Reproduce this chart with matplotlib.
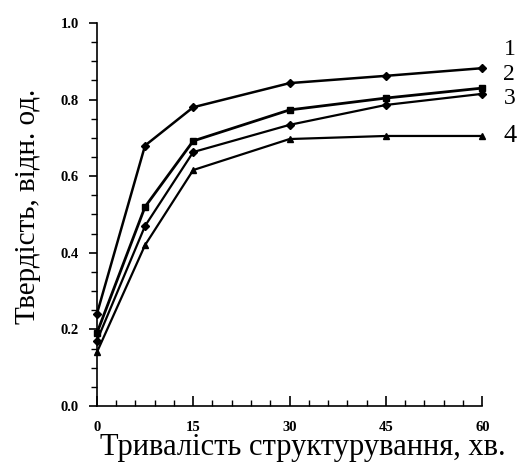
#!/usr/bin/env python3
"""Hardness vs. structuring time, four curves."""

import matplotlib
matplotlib.use("Agg")
import matplotlib.pyplot as plt
from matplotlib.ticker import MultipleLocator

time_min = [0, 7.5, 15, 30, 45, 60]
curve_1 = [0.24, 0.68, 0.78, 0.843, 0.862, 0.882]
curve_2 = [0.19, 0.52, 0.692, 0.773, 0.804, 0.83]
curve_3 = [0.17, 0.47, 0.663, 0.734, 0.786, 0.815]
curve_4 = [0.14, 0.42, 0.616, 0.697, 0.705, 0.705]
curve_labels = ["1", "2", "3", "4"]
label_y = [0.93, 0.866, 0.802, 0.705]

SERIF = ["Liberation Serif", "DejaVu Serif"]

fig = plt.figure(figsize=(5.18, 4.74), dpi=100)
ax = fig.add_axes([0.187, 0.1435, 0.744, 0.808])

styles = [
    dict(marker="D", markersize=4, lw=1.8),
    dict(marker="s", markersize=5, lw=2.0),
    dict(marker="D", markersize=4, lw=1.6),
    dict(marker="^", markersize=5, lw=1.6),
]
for ys, st in zip([curve_1, curve_2, curve_3, curve_4], styles):
    ax.plot(time_min, ys, color="black", clip_on=False, **st)

for lab, y in zip(curve_labels, label_y):
    ax.text(63.3, y, lab, fontsize=17 if lab != "4" else 19, family=SERIF,
            va="center", ha="left", clip_on=False)

ax.set_xlim(0, 60)
ax.set_ylim(0, 1.0)
ax.spines["top"].set_visible(False)
ax.spines["right"].set_visible(False)
ax.spines["left"].set_linewidth(1.2)
ax.spines["bottom"].set_linewidth(1.2)

ax.xaxis.set_major_locator(MultipleLocator(15))
ax.xaxis.set_minor_locator(MultipleLocator(3))
ax.yaxis.set_major_locator(MultipleLocator(0.2))
ax.yaxis.set_minor_locator(MultipleLocator(0.05))
ax.tick_params(axis="x", which="major", direction="in", length=7, width=1.2, pad=11)
ax.tick_params(axis="x", which="minor", direction="in", length=4, width=1.0)
ax.tick_params(axis="y", which="major", direction="out", length=6, width=1.2, pad=7)
ax.tick_params(axis="y", which="minor", direction="out", length=4, width=1.0)
ax.set_yticklabels([f"{v:.1f}" for v in ax.get_yticks()])

for lbl in ax.get_xticklabels() + ax.get_yticklabels():
    lbl.set_family(SERIF)
    lbl.set_fontweight("bold")
    lbl.set_fontsize(10.5)

ax.set_xlabel("Тривалість структурування, хв.", family=SERIF, fontsize=22)
ax.set_ylabel("Твердість, відн. од.", family=SERIF, fontsize=21)
ax.xaxis.set_label_coords(0.535, -0.07)
ax.yaxis.set_label_coords(-0.145, 0.52)

fig.savefig("out.png", dpi=100)
